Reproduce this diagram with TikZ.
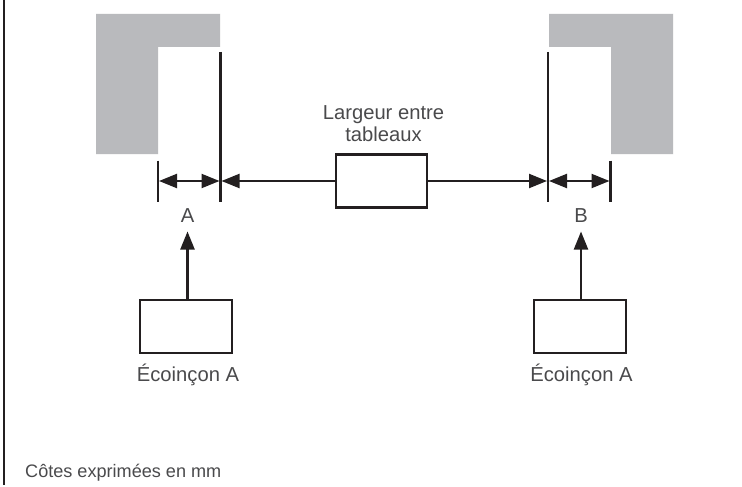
\documentclass[tikz,border=0pt]{standalone}
\usepackage{fontspec}
\setmainfont{Liberation Sans}
\usetikzlibrary{arrows.meta}
\definecolor{wall}{HTML}{B9BABD}
\definecolor{ink}{HTML}{231F20}
\definecolor{txt}{HTML}{4A4A4C}
\tikzset{
  wallshape/.style={fill=wall,draw=none},
  frameline/.style={draw=ink,line width=2pt},
  boxshape/.style={draw=ink,line width=2.2pt,fill=white,inner sep=0pt,minimum width=#1,minimum height=53pt},
  dimline/.style={draw=ink,line width=2.2pt},
  conn/.style={draw=ink,line width=2.2pt,-{Triangle[length=18pt,width=14pt]},shorten >=1pt},
  dimconn/.style={draw=ink,line width=2.2pt,{Triangle[length=18pt,width=14pt]}-{Triangle[length=18pt,width=14pt]},shorten >=1pt,shorten <=1pt},
  lbl/.style={text=txt,anchor=base,inner sep=0pt,font=\fontsize{20.2pt}{24pt}\selectfont},
  note/.style={text=txt,anchor=base west,inner sep=0pt,font=\fontsize{18.1pt}{22pt}\selectfont}
}
\begin{document}
\begin{tikzpicture}[x=1pt,y=-1pt]
\useasboundingbox (0,0) rectangle (742,487);
\fill[white] (0,0) rectangle (742,487);
\draw[frameline] (4,0) -- (4,485);
\fill[wallshape] (96,14) -- (220,14) -- (220,47) -- (158,47) -- (158,154) -- (96,154) -- cycle;
\fill[wallshape] (673,14) -- (549,14) -- (549,47) -- (611,47) -- (611,154) -- (673,154) -- cycle;
\coordinate (a1) at (158,181);
\coordinate (a2) at (220.5,181);
\coordinate (b1) at (548,181);
\coordinate (b2) at (610.5,181);
\draw[dimline] (158,160.5) -- (158,202);
\draw[dimline] (220.5,52) -- (220.5,202);
\draw[dimline] (548,52) -- (548,202);
\draw[dimline] (610.5,160.5) -- (610.5,202);
\node[boxshape=91.5pt] (mid) at (381.5,181) {};
\node[boxshape=92pt] (ea) at (186.2,326.5) {};
\node[boxshape=92pt] (eb) at (579.7,326.5) {};
\coordinate (ta) at (187.5,230.5);
\coordinate (tb) at (581,230.5);
\draw[dimconn] (a1) -- (a2);
\draw[dimconn] (b1) -- (b2);
\draw[conn] (mid.west) -- (a2);
\draw[conn] (mid.east) -- (b1);
\draw[conn] (ea.north -| ta) -- (ta);
\draw[conn] (eb.north -| tb) -- (tb);
\node[lbl] (l1) at (383.5,119) {Largeur entre};
\node[lbl] (l2) at (383.5,141) {tableaux};
\node[lbl] (la) at (187.5,222) {A};
\node[lbl] (lb) at (581,222) {B};
\node[lbl] (ca) at (188,381) {Écoinçon A};
\node[lbl] (cb) at (581.5,381) {Écoinçon A};
\node[note] (n) at (25,477) {Côtes exprimées en mm};
\end{tikzpicture}
\end{document}
